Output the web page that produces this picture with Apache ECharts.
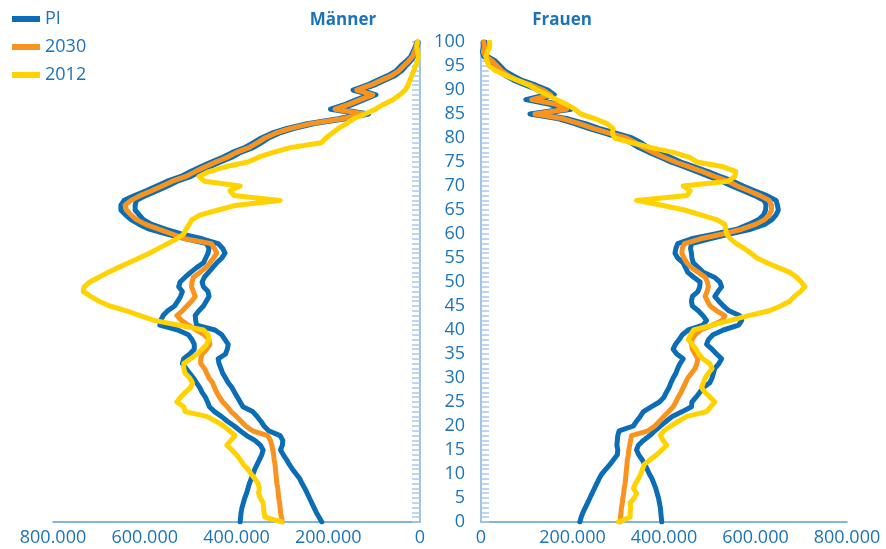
<!DOCTYPE html>
<html><head><meta charset="utf-8">
<script src="https://cdn.jsdelivr.net/npm/echarts@6/dist/echarts.min.js"></script>
<style>html,body{margin:0;padding:0;background:#fff}#c{width:886px;height:549px}</style>
</head><body><div id="c"></div>
<script>
// ages from 100 down to 0; values in thousands of persons
const ages = [100,99,98,97,96,95,94,93,92,91,90,89,88,87,86,85,84,83,82,81,80,79,78,77,76,75,74,73,72,71,70,69,68,67,66,65,64,63,62,61,60,59,58,57,56,55,54,53,52,51,50,49,48,47,46,45,44,43,42,41,40,39,38,37,36,35,34,33,32,31,30,29,28,27,26,25,24,23,22,21,20,19,18,17,16,15,14,13,12,11,10,9,8,7,6,5,4,3,2,1,0];
const xTicks = [0,200,400,600,800];

const male2030 = [5,8,12,16,25,36,46,62,85,108,
138,103,130,155,185,120,170,238,282,315,
338,355,373,400,420,445,468,490,510,540,
562,585,610,630,643,640,630,618,598,570,
540,512,455,448,443,450,458,467,480,494,
497,498,494,490,498,508,518,530,520,505,
487,470,460,458,465,475,478,478,470,465,
460,452,448,443,437,430,420,412,400,390,
380,365,332,326,323,321,319,318,316,315,
314,313,312,310,309,308,306,305,304,302,
300];
const malePIHigh = [7,10,15,20,30,42,52,70,93,116,
146,110,138,163,195,128,178,246,290,323,
346,364,382,409,430,455,478,500,521,551,
574,597,622,645,652,652,642,630,612,590,
552,510,465,460,462,467,472,487,500,512,
523,526,518,522,528,535,550,560,565,567,
528,505,497,492,492,502,515,518,510,502,
494,487,480,475,468,463,459,448,433,420,
405,392,378,360,348,342,345,350,355,360,
364,368,372,375,378,382,385,388,390,391,
392];
const malePILow = [4,6,9,13,21,31,40,55,78,100,
130,96,122,147,175,112,162,230,274,307,
330,346,364,391,410,435,458,480,499,529,
550,573,598,618,621,621,612,603,585,555,
520,475,440,430,425,432,443,452,461,470,
475,472,462,460,466,472,482,490,489,487,
447,432,425,418,420,424,440,438,434,430,
424,418,410,404,398,392,386,365,355,347,
340,330,305,299,300,304,298,291,285,278,
270,262,257,251,246,241,236,231,226,220,
214];
const male2012 = [6,7,5,4,5,10,14,18,22,26,
32,44,58,80,97,120,145,160,178,192,
205,215,283,320,352,375,425,460,482,470,
392,414,405,305,400,440,478,497,503,510,
515,530,550,570,590,612,635,658,680,700,
720,732,734,718,700,676,640,610,580,525,
472,462,460,465,475,485,500,515,515,512,
502,496,500,512,522,530,515,512,465,445,
428,415,403,412,421,410,400,392,385,375,
368,360,353,350,352,348,342,341,340,338,
301];

const female2030 = [6,8,5,10,25,35,45,60,80,110,
135,152,111,165,187,118,180,215,245,280,
318,338,355,377,400,425,455,484,510,540,
560,585,610,630,635,635,630,620,600,570,
528,480,445,440,439,444,450,460,475,490,
495,497,494,490,495,501,515,533,527,505,
480,468,461,460,462,468,474,472,468,460,
452,447,442,437,431,426,420,410,400,390,
380,365,329,327,325,323,322,320,319,318,
317,316,315,313,312,310,309,307,306,305,
304];
const femalePIHigh = [9,11,8,14,32,42,52,70,90,120,
146,160,122,172,197,127,190,228,258,295,
330,350,366,390,414,437,467,496,522,551,
573,598,625,645,648,650,645,636,620,590,
543,500,460,458,460,461,464,475,486,510,
522,526,518,511,520,530,542,565,570,563,
530,507,497,493,505,515,526,520,511,508,
505,500,486,478,470,461,460,440,418,405,
392,380,369,355,344,340,345,352,358,363,
368,374,378,382,385,388,390,392,393,394,
395];
const femalePILow = [5,6,3,6,22,30,38,54,72,98,
124,143,98,150,177,107,170,205,235,270,
305,328,345,368,392,415,445,472,498,526,
548,573,598,619,623,622,618,607,585,559,
512,460,430,426,424,430,442,447,452,465,
479,478,474,462,460,462,475,485,493,485,
453,440,433,425,420,428,442,435,430,426,
420,415,411,405,400,390,372,355,348,340,
333,302,299,298,297,299,298,290,282,273,
264,258,253,248,243,238,233,228,223,219,
216];
const female2012 = [19,19,14,11,13,18,32,55,80,105,
122,145,165,187,205,218,250,275,289,287,
292,330,372,420,455,472,530,557,555,540,
442,457,450,340,395,445,480,515,533,535,
537,545,558,575,590,603,625,650,675,690,
700,708,698,685,675,655,630,585,545,505,
465,458,453,462,470,476,485,500,505,497,
490,486,482,490,501,511,502,493,450,432,
415,400,392,398,406,395,384,370,357,353,
349,344,338,333,340,335,326,327,326,326,
300];

const BLUE = '#0b6db5', ORANGE = '#f7931e', YELLOW = '#ffd200';
const TXT = '#1b74bb';
const FONT = 'Open Sans';
const pts = vals => vals.map((v, i) => [v, ages[i]]);

function line(name, color, vals, idx) {
  return {
    name, type: 'line', xAxisIndex: idx, yAxisIndex: idx,
    data: pts(vals), showSymbol: false, symbol: 'none',
    lineStyle: { color, width: 5, join: 'round', cap: 'round' },
    itemStyle: { color }, animation: false, silent: true
  };
}

function xAxis(idx, inverse) {
  return {
    type: 'value', gridIndex: idx, min: 0, max: 800, interval: 200, inverse,
    axisLine: { show: true, lineStyle: { color: '#5b9bd5', width: 1.5 } },
    axisTick: { show: false }, splitLine: { show: false },
    axisLabel: { color: TXT, fontFamily: FONT, fontSize: 18, margin: 7,
      formatter: v => v === 0 ? '0' : v + '.000' }
  };
}
function yAxis(idx, pos, showLabel) {
  return {
    type: 'value', gridIndex: idx, min: 0, max: 100, interval: 1, position: pos,
    axisLine: { show: true, onZero: false, lineStyle: { color: '#7fb0de', width: 1.5 } },
    axisTick: { show: true, inside: true, length: 8, lineStyle: { color: '#a9c7e8', width: 1.5 } },
    splitLine: { show: false },
    axisLabel: { show: showLabel, color: TXT, fontFamily: FONT, fontSize: 18, margin: 16,
      formatter: v => (v % 5 === 0 ? String(v) : '') }
  };
}

const chart = echarts.init(document.getElementById('c'), null, { renderer: 'canvas' });
chart.setOption({
  backgroundColor: '#fff',
  animation: false,
  title: [
    { text: 'Männer', left: 338, top: 7, textAlign: 'center',
      textStyle: { color: TXT, fontFamily: FONT, fontSize: 17, fontWeight: 'bold' } },
    { text: 'Frauen', left: 557, top: 7, textAlign: 'center',
      textStyle: { color: TXT, fontFamily: FONT, fontSize: 17, fontWeight: 'bold' } }
  ],
  legend: {
    data: ['PI', '2030', '2012'], orient: 'vertical', left: 7, top: 5,
    icon: 'rect', itemWidth: 28, itemHeight: 6, itemGap: 10,
    textStyle: { color: TXT, fontFamily: FONT, fontSize: 18 }, selectedMode: false
  },
  grid: [
    { left: 53, right: 466, top: 42, bottom: 27 },
    { left: 481, right: 39, top: 42, bottom: 27 }
  ],
  xAxis: [xAxis(0, true), xAxis(1, false)],
  yAxis: [yAxis(0, 'right', false), yAxis(1, 'left', true)],
  series: [
    line('PI', BLUE, malePIHigh, 0),
    line('PI', BLUE, malePILow, 0),
    line('2030', ORANGE, male2030, 0),
    line('2012', YELLOW, male2012, 0),
    line('PI', BLUE, femalePIHigh, 1),
    line('PI', BLUE, femalePILow, 1),
    line('2030', ORANGE, female2030, 1),
    line('2012', YELLOW, female2012, 1)
  ]
});
</script></body></html>
